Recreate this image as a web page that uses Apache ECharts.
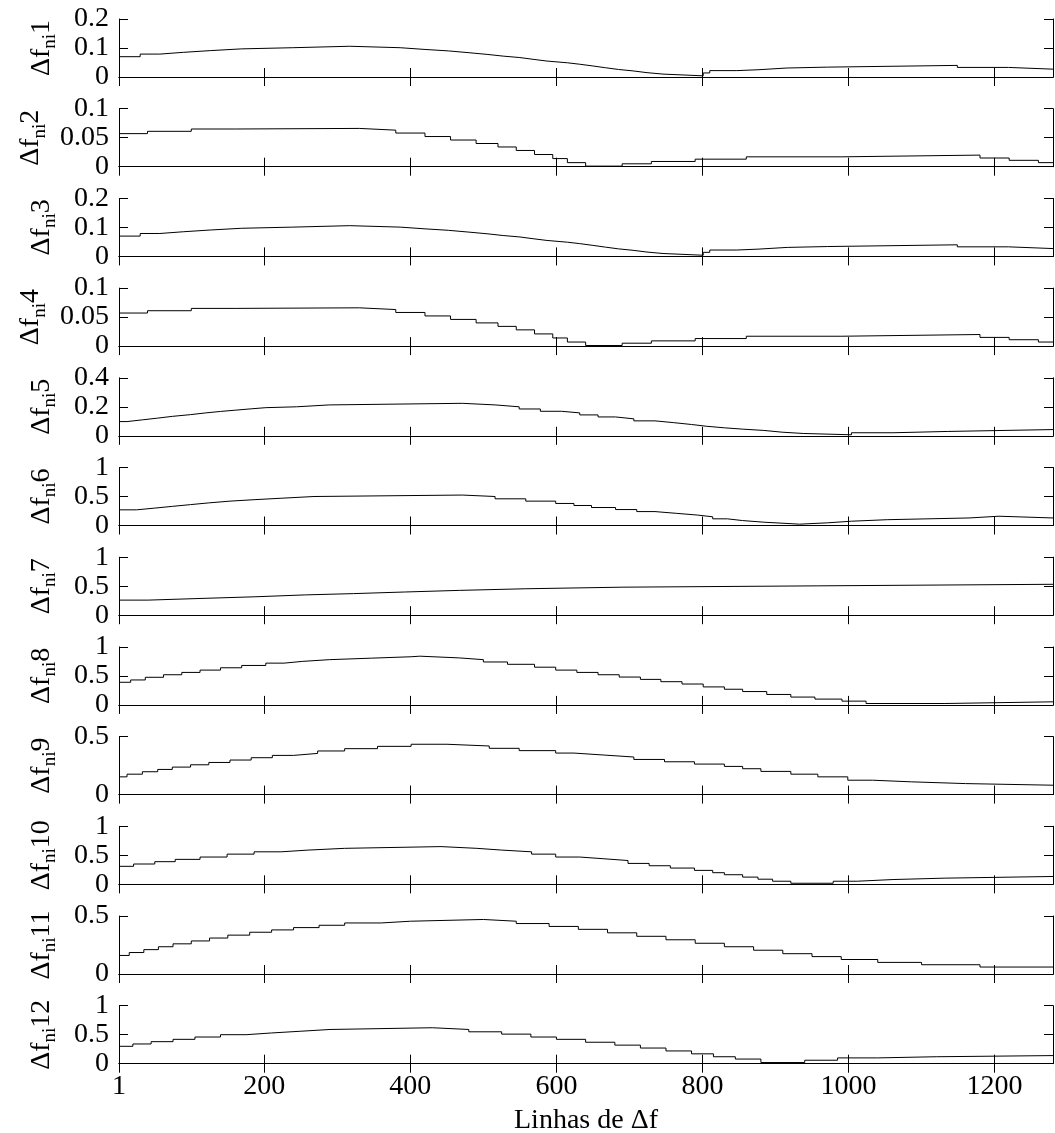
<!DOCTYPE html>
<html>
<head>
<meta charset="utf-8">
<script src="https://cdn.jsdelivr.net/npm/echarts@6/dist/echarts.min.js"></script>
<style>
  html, body { margin: 0; padding: 0; background: #fff; }
  #chart { width: 1055px; height: 1133px; }
</style>
</head>
<body>
<div id="chart"></div>
<script>
// x axis (line index of delta f)
const xMin = 1
const xMax = 1280
const xTicks = [1, 200, 400, 600, 800, 1000, 1200]

// y range and tick step of each subplot
const yMax = [0.2, 0.1, 0.2, 0.1, 0.4, 1, 1, 1, 0.5, 1, 0.5, 1]
const yStep = [0.1, 0.05, 0.1, 0.05, 0.2, 0.5, 0.5, 0.5, 0.5, 0.5, 0.5, 0.5]

// staircase curves: x where a step starts, y its level
const df1x = [1, 30, 57, 89, 126, 169, 239, 317, 386, 420, 452, 479, 505, 527, 550, 568, 587, 615, 632, 650, 667, 685, 705, 724, 746, 801, 810, 847, 876, 916, 971, 1149, 1219]
const df1y = [0.07, 0.079, 0.085, 0.091, 0.097, 0.101, 0.106, 0.101, 0.095, 0.09, 0.084, 0.078, 0.072, 0.067, 0.061, 0.055, 0.049, 0.044, 0.038, 0.032, 0.026, 0.021, 0.015, 0.01, 0.004, 0.014, 0.022, 0.025, 0.031, 0.034, 0.04, 0.033, 0.027]
const df2x = [1, 40, 100, 160, 330, 380, 420, 455, 490, 520, 545, 570, 595, 615, 640, 690, 730, 790, 860, 990, 1180, 1220, 1260]
const df2y = [0.057, 0.061, 0.065, 0.066, 0.063, 0.058, 0.052, 0.046, 0.04, 0.034, 0.028, 0.021, 0.014, 0.007, 0.001, 0.005, 0.009, 0.013, 0.017, 0.02, 0.015, 0.011, 0.007]
const df3x = [1, 30, 57, 89, 126, 169, 239, 317, 386, 420, 452, 479, 505, 527, 550, 568, 587, 615, 632, 650, 667, 685, 705, 724, 746, 801, 810, 847, 876, 916, 971, 1149, 1219]
const df3y = [0.07, 0.079, 0.085, 0.091, 0.097, 0.101, 0.106, 0.101, 0.095, 0.09, 0.084, 0.078, 0.072, 0.067, 0.061, 0.055, 0.049, 0.044, 0.038, 0.032, 0.026, 0.021, 0.015, 0.01, 0.004, 0.014, 0.022, 0.025, 0.031, 0.034, 0.04, 0.033, 0.027]
const df4x = [1, 40, 100, 160, 330, 380, 420, 455, 490, 520, 545, 570, 595, 615, 640, 690, 730, 790, 860, 990, 1180, 1220, 1260]
const df4y = [0.057, 0.061, 0.065, 0.066, 0.063, 0.058, 0.052, 0.046, 0.04, 0.034, 0.028, 0.021, 0.014, 0.007, 0.001, 0.005, 0.009, 0.013, 0.017, 0.02, 0.015, 0.011, 0.007]
const df5x = [1, 12, 33, 54, 74, 99, 120, 140, 161, 182, 202, 244, 289, 471, 516, 549, 578, 607, 632, 657, 681, 706, 735, 760, 785, 805, 830, 855, 884, 909, 938, 1004, 1061, 1136]
const df5y = [0.098, 0.11, 0.122, 0.134, 0.146, 0.158, 0.168, 0.177, 0.186, 0.194, 0.2, 0.213, 0.224, 0.213, 0.2, 0.185, 0.169, 0.158, 0.144, 0.13, 0.117, 0.103, 0.091, 0.078, 0.066, 0.055, 0.046, 0.037, 0.025, 0.016, 0.007, 0.021, 0.03, 0.043]
const df6x = [1, 25, 50, 74, 99, 124, 153, 186, 223, 268, 471, 516, 558, 599, 624, 648, 681, 710, 735, 764, 793, 814, 834, 855, 884, 933, 971, 1004, 1053, 1165, 1206]
const df6y = [0.27, 0.3, 0.33, 0.36, 0.39, 0.42, 0.445, 0.47, 0.5, 0.525, 0.5, 0.46, 0.42, 0.38, 0.345, 0.31, 0.275, 0.24, 0.21, 0.18, 0.15, 0.115, 0.085, 0.057, 0.023, 0.046, 0.074, 0.1, 0.13, 0.16, 0.13]
const df7x = [1, 41, 116, 186, 256, 322, 392, 467, 558, 690, 958]
const df7y = [0.26, 0.29, 0.317, 0.35, 0.372, 0.4, 0.428, 0.456, 0.483, 0.506, 0.533]
const df8x = [1, 17, 37, 62, 87, 112, 140, 169, 202, 227, 252, 289, 347, 401, 413, 467, 500, 533, 570, 599, 628, 657, 686, 715, 743, 772, 801, 830, 855, 888, 921, 954, 991, 1024, 1132]
const df8y = [0.39, 0.43, 0.476, 0.52, 0.56, 0.6, 0.64, 0.68, 0.72, 0.75, 0.78, 0.806, 0.83, 0.84, 0.81, 0.78, 0.74, 0.7, 0.65, 0.6, 0.56, 0.52, 0.48, 0.44, 0.4, 0.36, 0.31, 0.27, 0.23, 0.18, 0.135, 0.1, 0.065, 0.024, 0.053]
const df9x = [1, 12, 33, 54, 74, 99, 124, 153, 182, 211, 240, 273, 310, 355, 401, 450, 508, 549, 599, 624, 665, 706, 748, 789, 830, 855, 880, 921, 958, 999, 1033, 1086, 1160]
const df9y = [0.153, 0.176, 0.197, 0.217, 0.237, 0.257, 0.277, 0.298, 0.318, 0.338, 0.355, 0.376, 0.396, 0.416, 0.434, 0.419, 0.399, 0.379, 0.358, 0.341, 0.324, 0.303, 0.283, 0.263, 0.243, 0.223, 0.2, 0.176, 0.153, 0.124, 0.11, 0.095, 0.081]
const df10x = [1, 21, 50, 78, 112, 149, 186, 223, 260, 310, 442, 491, 525, 566, 599, 632, 665, 698, 727, 756, 789, 814, 830, 855, 876, 896, 921, 979, 1012, 1061, 1132]
const df10y = [0.31, 0.35, 0.39, 0.43, 0.47, 0.52, 0.56, 0.59, 0.62, 0.65, 0.62, 0.59, 0.56, 0.52, 0.47, 0.44, 0.41, 0.36, 0.32, 0.28, 0.24, 0.2, 0.165, 0.124, 0.088, 0.053, 0.018, 0.053, 0.082, 0.106, 0.135]
const df11x = [1, 15, 35, 55, 75, 100, 125, 150, 180, 210, 240, 275, 310, 360, 400, 500, 545, 590, 630, 670, 710, 750, 790, 830, 870, 910, 950, 990, 1040, 1100, 1180]
const df11y = [0.16, 0.185, 0.21, 0.235, 0.26, 0.285, 0.31, 0.335, 0.36, 0.38, 0.4, 0.42, 0.44, 0.455, 0.47, 0.455, 0.435, 0.41, 0.385, 0.355, 0.325, 0.295, 0.265, 0.235, 0.205, 0.175, 0.15, 0.125, 0.1, 0.08, 0.06]
const df12x = [1, 20, 45, 75, 105, 140, 175, 210, 250, 290, 430, 480, 525, 565, 600, 640, 680, 715, 750, 785, 815, 845, 880, 940, 985, 1040, 1120]
const df12y = [0.3, 0.34, 0.38, 0.42, 0.46, 0.5, 0.53, 0.56, 0.59, 0.62, 0.59, 0.55, 0.51, 0.46, 0.42, 0.37, 0.32, 0.27, 0.22, 0.17, 0.12, 0.08, 0.02, 0.06, 0.1, 0.12, 0.14]

const curvesX = [df1x, df2x, df3x, df4x, df5x, df6x, df7x, df8x, df9x, df10x, df11x, df12x]
const curvesY = [df1y, df2y, df3y, df4y, df5y, df6y, df7y, df8y, df9y, df10y, df11y, df12y]

const font = 'Liberation Serif'
const fontSize = 28
const panelTop = 19
const panelPitch = 89.7
const panelHeight = 58

const chart = echarts.init(document.getElementById('chart'))

const grid = []
const xAxis = []
const yAxis = []
const series = []

curvesX.forEach((xs, i) => {
  const last = i === curvesX.length - 1
  grid.push({
    left: 119,
    right: 2,
    top: panelTop + i * panelPitch,
    height: panelHeight,
    outerBoundsMode: 'none'
  })
  const tick = {
    show: true,
    inside: true,
    length: 9,
    customValues: xTicks,
    lineStyle: { color: '#000', width: 1 }
  }
  xAxis.push({
    type: 'value',
    gridIndex: i,
    position: 'bottom',
    min: xMin,
    max: xMax,
    axisLine: { lineStyle: { color: '#000', width: 1 } },
    axisTick: tick,
    axisLabel: {
      show: last,
      customValues: xTicks,
      formatter: (v) => String(v),
      color: '#000',
      fontFamily: font,
      fontSize: fontSize,
      margin: 9
    },
    splitLine: { show: false },
    name: last ? 'Linhas de Δf' : '',
    nameLocation: 'middle',
    nameGap: 43,
    nameTextStyle: { color: '#000', fontFamily: font, fontSize: fontSize }
  })
  xAxis.push({
    type: 'value',
    gridIndex: i,
    position: 'top',
    min: xMin,
    max: xMax,
    axisLine: { lineStyle: { color: '#000', width: 1 } },
    axisTick: tick,
    axisLabel: { show: false },
    splitLine: { show: false }
  })
  const yTick = { show: true, inside: true, length: 9, lineStyle: { color: '#000', width: 1 } }
  yAxis.push({
    type: 'value',
    gridIndex: i,
    position: 'left',
    min: 0,
    max: yMax[i],
    interval: yStep[i],
    axisLine: { show: true, lineStyle: { color: '#000', width: 1 } },
    axisTick: yTick,
    axisLabel: {
      formatter: (v) => String(v),
      color: '#000',
      fontFamily: font,
      fontSize: fontSize,
      margin: 10
    },
    splitLine: { show: false },
    name: '{m|Δf}{s|ni}{m|' + (i + 1) + '}',
    nameLocation: 'middle',
    nameRotate: 90,
    nameGap: 59,
    nameTextStyle: {
      color: '#000',
      rich: {
        m: { fontFamily: font, fontSize: fontSize, color: '#000', lineHeight: 36, verticalAlign: 'middle' },
        s: { fontFamily: font, fontSize: 19, color: '#000', lineHeight: 19, verticalAlign: 'bottom' }
      }
    }
  })
  yAxis.push({
    type: 'value',
    gridIndex: i,
    position: 'right',
    min: 0,
    max: yMax[i],
    interval: yStep[i],
    axisLine: { show: true, lineStyle: { color: '#000', width: 1 } },
    axisTick: yTick,
    axisLabel: { show: false },
    splitLine: { show: false }
  })
  const ys = curvesY[i]
  const data = xs.map((x, k) => [x, ys[k]])
  data.push([xMax, ys[ys.length - 1]])
  series.push({
    type: 'line',
    xAxisIndex: i * 2,
    yAxisIndex: i * 2,
    step: 'end',
    showSymbol: false,
    data: data,
    lineStyle: { color: '#000', width: 1 }
  })
})

chart.setOption({
  animation: false,
  backgroundColor: '#fff',
  grid,
  xAxis,
  yAxis,
  series
})
</script>
</body>
</html>
